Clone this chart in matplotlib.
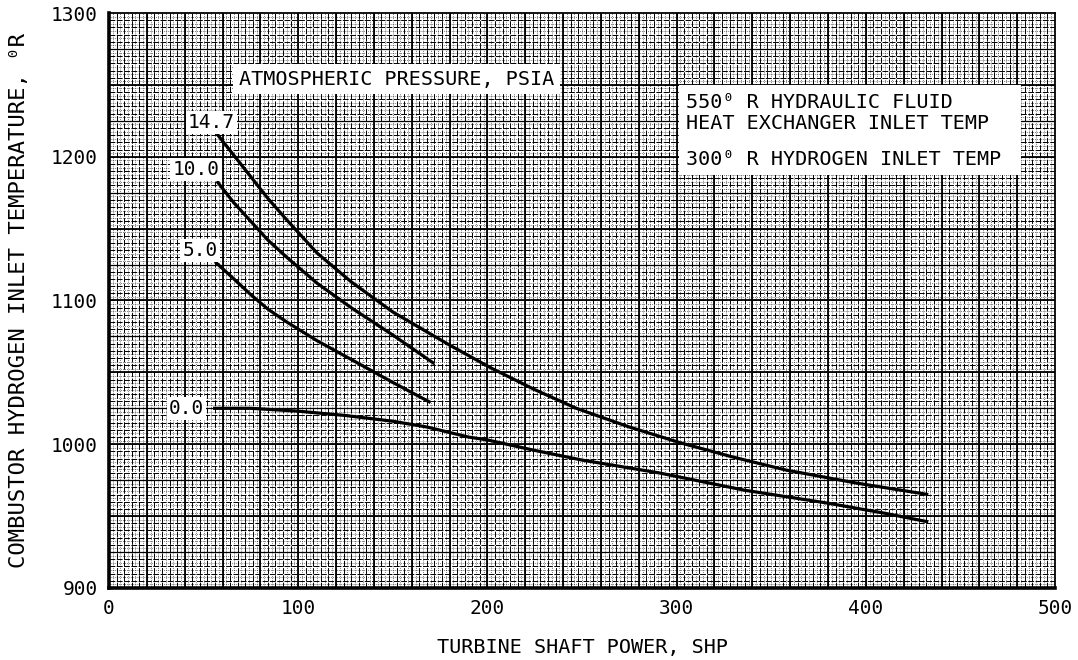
import numpy as np
import matplotlib.pyplot as plt
from matplotlib.patches import Rectangle

# shaft power (SHP) vs combustor hydrogen inlet temperature (deg R), one curve per ambient pressure
p147_x = [57, 66, 75, 84, 94, 110, 128, 150, 180, 202, 225, 247, 275, 302, 330, 358, 395, 433]
p147_y = [1216, 1201, 1186, 1171, 1156, 1133, 1113, 1092, 1069, 1053, 1038, 1025, 1012, 1001, 991, 982, 973, 965]
p10_x = [57, 66, 75, 84, 94, 110, 128, 150, 172]
p10_y = [1183, 1168, 1155, 1142, 1130, 1112, 1095, 1076, 1056]
p5_x = [56, 66, 75, 84, 94, 110, 128, 150, 170]
p5_y = [1127, 1115, 1104, 1094, 1085, 1072, 1059, 1043, 1029]
p0_x = [55, 75, 100, 125, 150, 168, 190, 200, 224, 250, 291, 336, 380, 410, 433]
p0_y = [1025, 1025, 1023, 1020, 1016, 1012, 1005, 1003, 996, 989, 980, 968, 959, 952, 946]

pressures = ["14.7", "10.0", "5.0", "0.0"]
label_pos = [(54, 1224), (46, 1191), (48, 1135), (41, 1025)]

x_ticks = [0, 100, 200, 300, 400, 500]
y_ticks = [900, 1000, 1100, 1200, 1300]

plt.rcParams['font.family'] = ['DejaVu Sans Mono', 'DejaVu Sans']

fig = plt.figure(figsize=(10.78, 6.6), dpi=100)
ax = fig.add_axes([0.1011, 0.1091, 0.8776, 0.8712])
ax.set_xlim(0, 500)
ax.set_ylim(900, 1300)

# graph paper: fine dotted, light broken, medium and heavy rulings
ax.vlines(np.arange(2, 500, 4), 900, 1300, color='k', lw=0.4, ls=(0, (1.5, 2)), zorder=0)
ax.hlines(np.arange(902.5, 1300, 5), 0, 500, color='k', lw=0.4, ls=(0, (1.5, 2)), zorder=0)
ax.vlines(np.arange(4, 500, 4), 900, 1300, color='k', lw=0.7, ls=(0, (6, 1.5)), zorder=0)
ax.hlines(np.arange(905, 1300, 5), 0, 500, color='k', lw=0.7, ls=(0, (6, 1.5)), zorder=0)
ax.hlines(np.arange(925, 1300, 50), 0, 500, color='k', lw=0.9, zorder=0)
ax.vlines(np.arange(20, 500, 20), 900, 1300, color='k', lw=1.3, zorder=0)
ax.hlines(np.arange(950, 1300, 50), 0, 500, color='k', lw=1.3, zorder=0)

for xs, ys in [(p147_x, p147_y), (p10_x, p10_y), (p5_x, p5_y), (p0_x, p0_y)]:
    ax.plot(xs, ys, color='k', lw=2.3, solid_capstyle='butt', solid_joinstyle='round', zorder=3)

for name, (lx, ly) in zip(pressures, label_pos):
    ax.text(lx, ly, name, fontsize=14, ha='center', va='center', zorder=4,
            bbox=dict(facecolor='white', edgecolor='none', pad=1.5))

ax.text(152, 1254, "ATMOSPHERIC PRESSURE, PSIA", fontsize=14.5, ha='center', va='center', zorder=4,
        bbox=dict(facecolor='white', edgecolor='none', pad=4))

ax.add_patch(Rectangle((301, 1187), 181, 63, facecolor='white', edgecolor='none', zorder=4))
ax.text(305, 1238, "550⁰ R HYDRAULIC FLUID", fontsize=14.5, va='center', zorder=5)
ax.text(305, 1223, "HEAT EXCHANGER INLET TEMP", fontsize=14.5, va='center', zorder=5)
ax.text(305, 1198, "300⁰ R HYDROGEN INLET TEMP", fontsize=14.5, va='center', zorder=5)

ax.set_xticks(x_ticks)
ax.set_yticks(y_ticks)
ax.tick_params(length=0, labelsize=14, pad=8)
ax.set_xlabel("TURBINE SHAFT POWER, SHP", fontsize=14.5, labelpad=14)
ax.set_ylabel("COMBUSTOR HYDROGEN INLET TEMPERATURE, ⁰R", fontsize=16, labelpad=16)

ax.spines['left'].set_linewidth(2.6)
ax.spines['bottom'].set_linewidth(2.6)
ax.spines['top'].set_linewidth(1.3)
ax.spines['right'].set_linewidth(1.3)
for s in ax.spines.values():
    s.set_zorder(6)

fig.savefig("out.png", dpi=100)
